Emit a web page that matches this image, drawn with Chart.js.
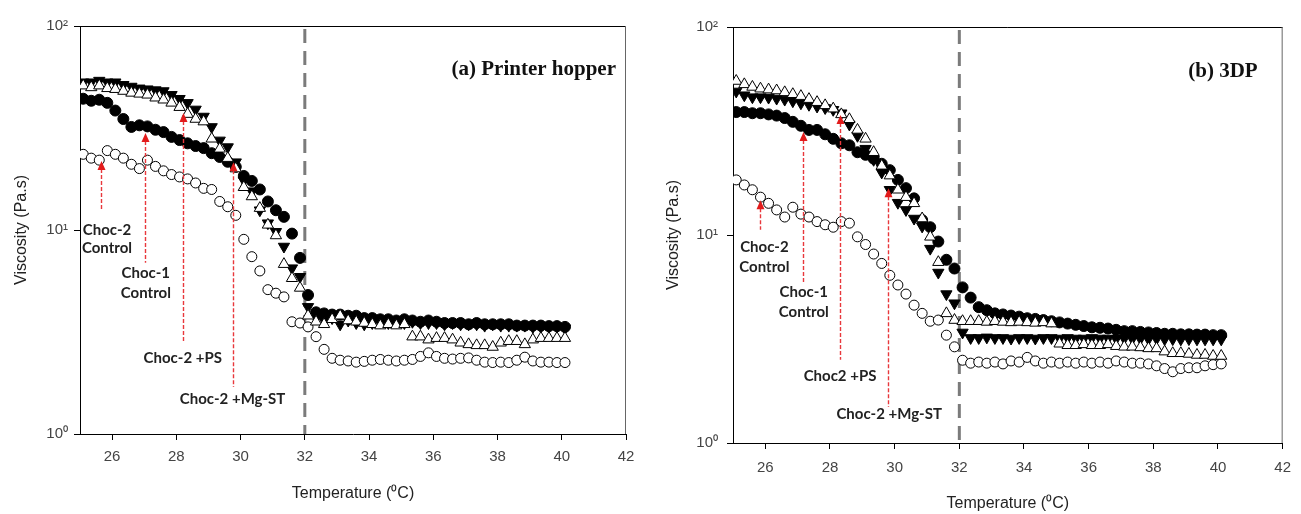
<!DOCTYPE html>
<html>
<head>
<meta charset="utf-8">
<script src="https://cdn.jsdelivr.net/npm/chart.js@4.4.0/dist/chart.umd.min.js"></script>
<style>
  html, body { margin: 0; padding: 0; background: #fff; }
  #wrap { position: relative; width: 1301px; height: 514px; }
  #boxA { position: absolute; left: 0; top: 0; width: 650px; height: 514px; }
  #boxB { position: absolute; left: 650px; top: 0; width: 651px; height: 514px; }
</style>
</head>
<body>
<div id="wrap">
  <div id="boxA"><canvas id="chartA"></canvas></div>
  <div id="boxB"><canvas id="chartB"></canvas></div>
</div>
<script>
// ---------------- Data ----------------
const temps = [25.1, 25.35, 25.6, 25.85, 26.1, 26.35, 26.6, 26.85, 27.1, 27.35,
  27.6, 27.85, 28.1, 28.35, 28.6, 28.85, 29.1, 29.35, 29.6, 29.85,
  30.1, 30.35, 30.6, 30.85, 31.1, 31.35, 31.6, 31.85, 32.1, 32.35,
  32.6, 32.85, 33.1, 33.35, 33.6, 33.85, 34.1, 34.35, 34.6, 34.85,
  35.1, 35.35, 35.6, 35.85, 36.1, 36.35, 36.6, 36.85, 37.1, 37.35,
  37.6, 37.85, 38.1, 38.35, 38.6, 38.85, 39.1, 39.35, 39.6, 39.85, 40.1];

const xTicks = [26, 28, 30, 32, 34, 36, 38, 40, 42];
const yTicks = [1, 10, 100];
const yTickLabels = ['10\u2070', '10\u00B9', '10\u00B2'];
const cutoffTemp = 32;

// (a) Printer hopper
const aChoc2Control = [23.5, 22.5, 22.0, 24.5, 23.5, 22.5, 21.0, 20.0, 22.0, 20.5,
  19.5, 18.7, 18.2, 17.8, 17.0, 16.0, 15.8, 13.8, 13.0, 11.8,
  9.0, 7.4, 6.3, 5.1, 4.9, 4.7, 3.55, 3.5, 3.35, 3.0,
  2.6, 2.35, 2.3, 2.28, 2.25, 2.27, 2.3, 2.32, 2.3, 2.28,
  2.3, 2.32, 2.4, 2.5, 2.4, 2.35, 2.33, 2.35, 2.36, 2.3,
  2.25, 2.24, 2.25, 2.24, 2.3, 2.38, 2.28, 2.25, 2.25, 2.24, 2.24];
const aChoc1Control = [44, 43, 43.5, 42, 38.5, 35, 32, 32.6, 32.2, 31,
  30.2, 28.6, 27.6, 26.6, 25.8, 25.2, 23.8, 22.8, 21.6, 20.4,
  18.4, 17.4, 15.8, 13.8, 12.5, 11.6, 9.6, 7.3, 4.8, 3.95,
  3.9, 3.85, 3.85, 3.8, 3.8, 3.7, 3.7, 3.65, 3.65, 3.6,
  3.65, 3.6, 3.55, 3.6, 3.55, 3.5, 3.5, 3.5, 3.45, 3.5,
  3.45, 3.45, 3.45, 3.45, 3.4, 3.4, 3.4, 3.4, 3.38, 3.38, 3.35];
const aChoc2PS = [51, 50, 51, 49.5, 49, 48, 47, 46.5, 46, 44.5,
  43.5, 42, 40, 37, 35, 34, 28, 25, 22.5, 20,
  16.2, 14.6, 12.8, 10.6, 9.4, 6.8, 5.8, 5.2, 3.8, 3.55,
  3.45, 3.65, 3.8, 3.6, 3.55, 3.5, 3.45, 3.4, 3.45, 3.4,
  3.45, 3.0, 3.0, 2.9, 2.95, 2.95, 2.9, 2.8, 2.75, 2.72,
  2.72, 2.67, 2.8, 2.85, 2.85, 2.75, 2.9, 2.95, 2.95, 2.95, 2.95];
const aChoc2MgST = [53, 53, 54, 53, 53, 51.5, 50.5, 49.5, 49, 48.5,
  48, 46, 44, 42, 39, 36, 32, 27.5, 25.5, 21.5,
  17.5, 15.5, 12.5, 10.8, 9.8, 8.3, 6.5, 5.9, 4.2, 3.7,
  3.6, 3.7, 3.45, 3.6, 3.5, 3.45, 3.5, 3.55, 3.5, 3.55,
  3.5, 3.55, 3.5, 3.5, 3.5, 3.45, 3.5, 3.45, 3.45, 3.45,
  3.4, 3.45, 3.4, 3.4, 3.4, 3.4, 3.35, 3.35, 3.35, 3.35, 3.3];

// (b) 3DP
const bChoc2Control = [18.4, 17.4, 16.5, 15.2, 14.2, 13.2, 12.2, 13.6, 12.6, 12.2,
  11.6, 11.2, 10.9, 11.6, 11.4, 9.8, 9.0, 8.1, 7.3, 6.4,
  5.75, 5.2, 4.6, 4.2, 3.85, 3.9, 3.3, 2.9, 2.5, 2.42,
  2.45, 2.42, 2.45, 2.4, 2.48, 2.45, 2.58, 2.48, 2.42, 2.45,
  2.42, 2.45, 2.42, 2.45, 2.42, 2.45, 2.42, 2.48, 2.45, 2.42,
  2.42, 2.4, 2.35, 2.28, 2.2, 2.28, 2.3, 2.3, 2.35, 2.38, 2.4];
const bChoc1Control = [39, 39, 38.5, 38.5, 38, 37.5, 36.5, 35, 33.5, 32,
  32, 30.5, 29, 27.6, 27, 25, 24.3, 23.3, 22, 20.5,
  18.4, 16.8, 15, 11.8, 10.9, 9.3, 7.6, 6.9, 5.6, 5.0,
  4.5, 4.35, 4.2, 4.15, 4.1, 4.05, 3.98, 3.95, 3.9, 3.85,
  3.8, 3.75, 3.7, 3.65, 3.6, 3.58, 3.55, 3.5, 3.45, 3.45,
  3.42, 3.4, 3.38, 3.35, 3.35, 3.33, 3.33, 3.32, 3.32, 3.3, 3.3];
const bChoc2PS = [55, 53, 51.5, 50.5, 50, 49.5, 48.5, 47.5, 46.5, 45,
  43.5, 42, 40.5, 38, 36, 32, 29, 25, 21.5, 19.3,
  16.5, 15.2, 14.2, 12, 9.8, 7.4, 4.2, 3.9, 3.85, 3.85,
  3.85, 3.82, 3.85, 3.82, 3.8, 3.82, 3.8, 3.78, 3.8, 3.75,
  3.0, 2.95, 2.95, 2.98, 2.95, 2.95, 2.98, 2.92, 2.9, 2.9,
  2.88, 2.85, 2.85, 2.75, 2.7, 2.7, 2.68, 2.65, 2.65, 2.62, 2.62];
const bChoc2MgST = [49, 47, 46, 46, 45.8, 45.3, 44.8, 44, 43, 42.3,
  41.5, 40.8, 40, 38.5, 34, 30, 26, 23, 20, 16.5,
  14.3, 13.2, 12, 11, 8.6, 6.6, 5.2, 4.7, 3.4, 3.2,
  3.2, 3.22, 3.2, 3.2, 3.18, 3.2, 3.2, 3.18, 3.2, 3.2,
  3.18, 3.2, 3.18, 3.18, 3.2, 3.18, 3.18, 3.17, 3.18, 3.17,
  3.17, 3.16, 3.17, 3.16, 3.16, 3.15, 3.16, 3.15, 3.15, 3.15, 3.15];

// arrow notes: x, arrow tip / tail viscosity, label x and label lines
const notesA = [
  { x: 25.65, tip: 21.8, tail: 12.5, lx: 25.84, lines: [['Choc-2', 10.0], ['Control', 8.16]] },
  { x: 27.02, tip: 29.9, tail: 6.9, lx: 27.05, lines: [['Choc-1', 6.15], ['Control', 4.91]] },
  { x: 28.2, tip: 37.5, tail: 2.83, lx: 28.2, lines: [['Choc-2 +PS', 2.36]] },
  { x: 29.77, tip: 21.5, tail: 1.70, lx: 29.75, lines: [['Choc-2 +Mg-ST', 1.48]] }
];
const notesB = [
  { x: 25.82, tip: 14.7, tail: 10.6, lx: 25.97, lines: [['Choc-2', 8.75], ['Control', 7.0]] },
  { x: 27.16, tip: 31.3, tail: 5.88, lx: 27.19, lines: [['Choc-1', 5.32], ['Control', 4.26]] },
  { x: 28.31, tip: 37.8, tail: 2.51, lx: 28.31, lines: [['Choc2 +PS', 2.10]] },
  { x: 29.8, tip: 16.8, tail: 1.49, lx: 29.83, lines: [['Choc-2 +Mg-ST', 1.38]] }
];


// ---------------- Helpers ----------------
function points(values) {
    return values.map((v, i) => ({ x: temps[i], y: v }));
}

const markers = {
    openTri: { pointStyle: 'triangle', pointRadius: 6.5, pointRotation: 0, pointBackgroundColor: '#fff', pointBorderColor: '#000', pointBorderWidth: 1 },
    fillCircle: { pointStyle: 'circle', pointRadius: 5.5, pointRotation: 0, pointBackgroundColor: '#000', pointBorderColor: '#000', pointBorderWidth: 1 },
    fillTri: { pointStyle: 'triangle', pointRadius: 6.5, pointRotation: 180, pointBackgroundColor: '#000', pointBorderColor: '#000', pointBorderWidth: 1 },
    openCircle: { pointStyle: 'circle', pointRadius: 5, pointRotation: 0, pointBackgroundColor: '#fff', pointBorderColor: '#000', pointBorderWidth: 1 }
};

function overlay(notes, title, geo) {
    return {
        id: 'overlay',
        beforeDatasetsDraw(chart) {
            const { ctx, chartArea: ca, scales: { x } } = chart;
            const xp = x.getPixelForValue(cutoffTemp);
            ctx.save();
            ctx.strokeStyle = '#7b7b7b';
            ctx.lineWidth = 3;
            ctx.setLineDash([14, 8]);
            ctx.beginPath();
            ctx.moveTo(xp, ca.top + 3);
            ctx.lineTo(xp, ca.bottom);
            ctx.stroke();
            ctx.restore();
        },
        afterDatasetsDraw(chart) {
            const { ctx, chartArea: ca, scales: { x, y } } = chart;
            ctx.save();
            // frame top + right
            ctx.lineWidth = 1;
            ctx.strokeStyle = '#000';
            ctx.beginPath();
            ctx.moveTo(ca.left, ca.top + 0.5);
            ctx.lineTo(ca.right, ca.top + 0.5);
            ctx.stroke();
            ctx.strokeStyle = '#666';
            ctx.beginPath();
            ctx.moveTo(ca.right - 0.5, ca.top);
            ctx.lineTo(ca.right - 0.5, ca.bottom);
            ctx.stroke();

            // red arrows and labels
            notes.forEach(n => {
                const px = Math.round(x.getPixelForValue(n.x)) + 0.5;
                const tip = y.getPixelForValue(n.tip);
                const tail = y.getPixelForValue(n.tail);
                ctx.setLineDash([4, 2]);
                ctx.strokeStyle = '#e8383c';
                ctx.lineWidth = 1.4;
                ctx.beginPath();
                ctx.moveTo(px, tip + 8);
                ctx.lineTo(px, tail);
                ctx.stroke();
                ctx.setLineDash([]);
                ctx.fillStyle = '#e21b1b';
                ctx.beginPath();
                ctx.moveTo(px, tip);
                ctx.lineTo(px - 4, tip + 9);
                ctx.lineTo(px + 4, tip + 9);
                ctx.closePath();
                ctx.fill();
                ctx.fillStyle = '#222';
                ctx.font = 'bold 15px Lato';
                ctx.textAlign = 'center';
                ctx.textBaseline = 'middle';
                n.lines.forEach(([t, v]) => ctx.fillText(t, x.getPixelForValue(n.lx), y.getPixelForValue(v)));
            });

            // panel title
            ctx.font = 'bold 21px "Liberation Serif"';
            ctx.textAlign = 'right';
            ctx.textBaseline = 'middle';
            ctx.fillStyle = '#111';
            ctx.fillText(title, ca.right - geo.titleDx, ca.top + geo.titleDy);
            ctx.restore();
        }
    };
}


// ---------------- Chart Init ----------------
function makeChart(id, series, notes, title, geo) {
    const ctx = document.getElementById(id).getContext('2d');
    return new Chart(ctx, {
        type: 'scatter',
        data: {
            datasets: [
                { label: 'Choc-2 +PS', data: points(series.ps), ...markers.openTri },
                { label: 'Choc-1 Control', data: points(series.c1), ...markers.fillCircle },
                { label: 'Choc-2 +Mg-ST', data: points(series.mg), ...markers.fillTri },
                { label: 'Choc-2 Control', data: points(series.c2), ...markers.openCircle }
            ]
        },
        options: {
            responsive: true,
            maintainAspectRatio: false,
            animation: false,
            devicePixelRatio: 1,
            layout: { padding: { left: 0, top: geo.top, right: geo.right, bottom: 0 } },
            plugins: { legend: { display: false }, tooltip: { enabled: false } },
            scales: {
                x: {
                    type: 'linear',
                    min: 25, max: 42,
                    afterBuildTicks: s => { s.ticks = xTicks.map(v => ({ value: v })); },
                    afterFit: s => { s.height = geo.xHeight; },
                    grid: { drawOnChartArea: false, drawTicks: true, tickLength: 6, color: '#000' },
                    border: { display: true, color: '#000', width: 1 },
                    ticks: {
                        autoSkip: false, maxRotation: 0, padding: geo.xTickPad,
                        color: '#444', font: { family: 'Liberation Sans', size: 15 },
                        callback: v => String(v)
                    },
                    title: {
                        display: true, text: 'Temperature (\u2070C)', color: '#222',
                        font: { family: 'Liberation Sans', size: 16 },
                        padding: { top: 0, bottom: geo.xTitlePad }
                    }
                },
                y: {
                    type: 'logarithmic',
                    min: 1, max: 100,
                    afterBuildTicks: s => { s.ticks = yTicks.map(v => ({ value: v })); },
                    afterFit: s => { s.width = geo.yWidth; },
                    grid: { drawOnChartArea: false, drawTicks: true, tickLength: 6, color: '#000' },
                    border: { display: true, color: '#000', width: 1 },
                    ticks: {
                        autoSkip: false, padding: geo.yTickPad,
                        color: '#444', font: { family: 'Liberation Sans', size: 15 },
                        callback: v => yTickLabels[yTicks.indexOf(v)]
                    },
                    title: {
                        display: true, text: 'Viscosity (Pa.s)', color: '#222',
                        font: { family: 'Liberation Sans', size: 16 },
                        padding: { top: geo.yTitlePad, bottom: 0 }
                    }
                }
            }
        },
        plugins: [overlay(notes, title, geo)]
    });
}


// ---------------- Initialize ----------------
makeChart('chartA',
    { ps: aChoc2PS, c1: aChoc1Control, mg: aChoc2MgST, c2: aChoc2Control },
    notesA, '(a) Printer hopper',
    { top: 26, right: 24, xHeight: 80, yWidth: 80, xTickPad: 8, yTickPad: 6, xTitlePad: 11, yTitlePad: 12, titleDx: 10, titleDy: 44 });

makeChart('chartB',
    { ps: bChoc2PS, c1: bChoc1Control, mg: bChoc2MgST, c2: bChoc2Control },
    notesB, '(b) 3DP',
    { top: 27, right: 9, xHeight: 71, yWidth: 83, xTickPad: 10, yTickPad: 9, xTitlePad: 1, yTitlePad: 14, titleDx: 25, titleDy: 45 });
</script>
</body>
</html>
